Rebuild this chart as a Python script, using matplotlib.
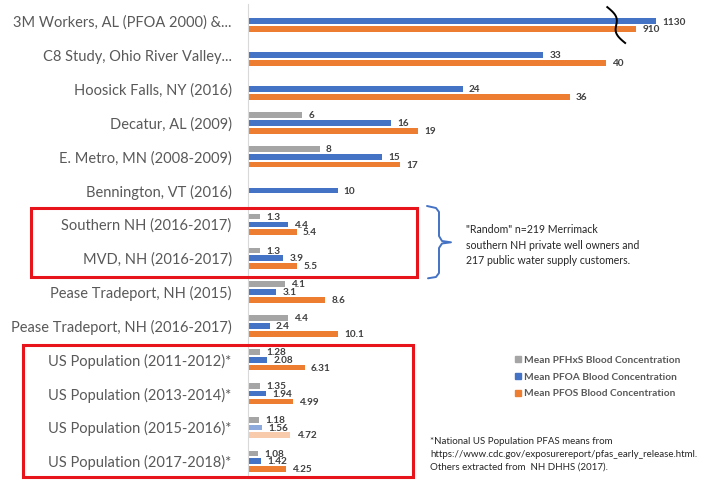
import numpy as np
import matplotlib.pyplot as plt
from matplotlib.patches import Rectangle

# Data
categories = [
    "3M Workers, AL (PFOA 2000) &...",
    "C8 Study, Ohio River Valley...",
    "Hoosick Falls, NY (2016)",
    "Decatur, AL (2009)",
    "E. Metro, MN (2008-2009)",
    "Bennington, VT (2016)",
    "Southern NH (2016-2017)",
    "MVD, NH (2016-2017)",
    "Pease Tradeport, NH (2015)",
    "Pease Tradeport, NH (2016-2017)",
    "US Population (2011-2012)*",
    "US Population (2013-2014)*",
    "US Population (2015-2016)*",
    "US Population (2017-2018)*",
]
nan = np.nan
pfhxs = [nan, nan, nan, 6, 8, nan, 1.3, 1.3, 4.1, 4.4, 1.28, 1.35, 1.18, 1.08]
pfoa = [1130, 33, 24, 16, 15, 10, 4.4, 3.9, 3.1, 2.4, 2.08, 1.94, 1.56, 1.42]
pfos = [910, 40, 36, 19, 17, nan, 5.4, 5.5, 8.6, 10.1, 6.31, 4.99, 4.72, 4.25]
series_names = ["Mean PFHxS Blood Concentration",
                "Mean PFOA Blood Concentration",
                "Mean PFOS Blood Concentration"]
faded_row = "US Population (2015-2016)*"

colors = ["#A5A5A5", "#4472C4", "#ED7D31"]
faded = ["#A5A5A5", "#8EA9DB", "#F8CBAD"]
label_color = "#595959"
value_color = "#404040"

plt.rcParams['font.family'] = ['Lato', 'DejaVu Sans']


def broken(v):
    # values past the axis break are squeezed into the end of the axis
    v = np.asarray(v, dtype=float)
    return np.where(v > 100, 33.9 + 0.01045 * v, v)


W, H = 705, 491
fig = plt.figure(figsize=(W / 100, H / 100), dpi=100)
ax = fig.add_axes([248.3 / W, 1 - 478.2 / H, (W - 248.3) / W, 473.8 / H])

y = np.arange(len(categories))
offsets = [-0.23, 0.0, 0.23]
bh = 0.17
handles = []
for k, vals in enumerate([pfhxs, pfoa, pfos]):
    cols = [faded[k] if c == faded_row else colors[k] for c in categories]
    bars = ax.barh(y + offsets[k], broken(vals), height=bh, color=cols,
                   label=series_names[k])
    handles.append(Rectangle((0, 0), 1, 1, color=colors[k]))
    for yy, v, d in zip(y + offsets[k], vals, broken(vals)):
        if np.isnan(v):
            continue
        ax.annotate(f"{v:g}", (d, yy), xytext=(4.5, -0.5),
                    textcoords="offset points", va="center", ha="left",
                    fontsize=7.2, fontweight="bold", color=value_color)

ax.set_xlim(0, (W - 248.3) / 8.93)
ax.set_ylim(len(categories) - 0.5, -0.5)
ax.set_yticks(y)
ax.set_yticklabels(categories, fontsize=10.5, color=label_color)
ax.tick_params(axis="y", length=0, pad=12)
ax.set_xticks([])
for s in ["top", "right", "bottom"]:
    ax.spines[s].set_visible(False)
ax.spines["left"].set_color("#D9D9D9")
ax.spines["left"].set_linewidth(0.8)

# axis break mark on the 3M bars
t = np.linspace(0, 1, 60)
ax.plot(40.2 + 2.0 * t + 0.45 * np.sin(2 * np.pi * t), -0.42 + 1.06 * t,
        color="black", lw=1.4, clip_on=False)

# overlay in pixel coordinates for boxes, brace and notes
ov = fig.add_axes([0, 0, 1, 1], facecolor="none")
ov.set_xlim(0, W)
ov.set_ylim(H, 0)
ov.axis("off")
ov.add_patch(Rectangle((31, 208.3), 417.3 - 31, 277.3 - 208.3, fill=False,
                       edgecolor="#E8141B", lw=2.2))
ov.add_patch(Rectangle((23.3, 345), 413.3 - 23.3, 476.7 - 345, fill=False,
                       edgecolor="#E8141B", lw=2.2))

# curly brace
bx = [427, 436, 439, 439, 442, 451, 442, 439, 439, 436, 428]
by = [206, 208, 212, 236, 241, 242.3, 243.5, 248, 273, 277, 278.3]
ov.plot(bx, by, color="#4472C4", lw=1.4, solid_capstyle="round")

note = ('"Random" n=219 Merrimack\nsouthern NH private well owners and\n'
        '217 public water supply customers.')
ov.text(466, 245, note, fontsize=7.6, color="#262626", va="center",
        ha="left", linespacing=1.5)

foot = ("*National US Population PFAS means from\n"
        "https://www.cdc.gov/exposurereport/pfas_early_release.html.\n"
        "Others extracted from  NH DHHS (2017).")
ov.text(430, 454.5, foot, fontsize=7.0, color="#262626", va="center",
        ha="left", linespacing=1.5)

leg = ov.legend(handles, series_names, loc="upper left",
                bbox_to_anchor=(515 / W, 1 - 356 / H), frameon=False,
                fontsize=7.3, handlelength=0.55, handleheight=0.55,
                handletextpad=0.35, labelspacing=0.75, borderpad=0,
                borderaxespad=0)
for txt in leg.get_texts():
    txt.set_color(label_color)
    txt.set_fontweight("bold")

fig.savefig("out.png", dpi=100)
